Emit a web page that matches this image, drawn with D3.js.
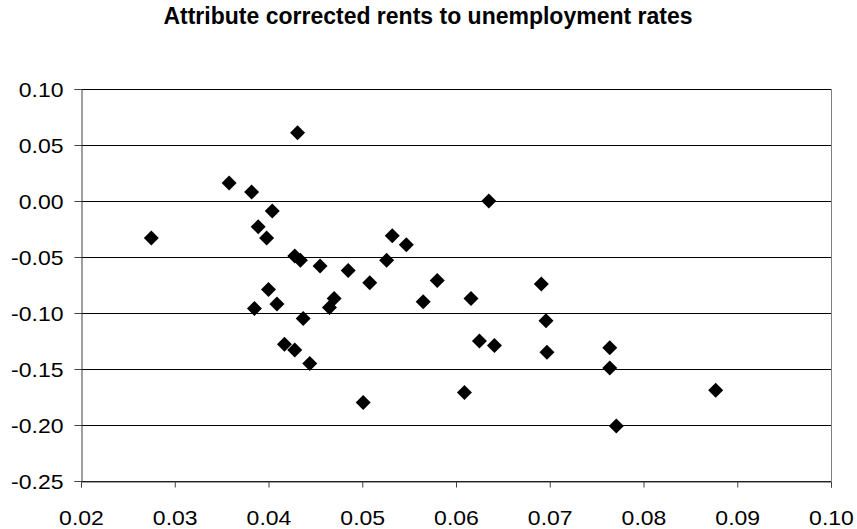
<!DOCTYPE html>
<html>
<head>
<meta charset="utf-8">
<script src="https://cdn.jsdelivr.net/npm/d3@7"></script>
<style>
  body { margin: 0; background: #fff; }
  svg { display: block; font-family: "Liberation Sans", Arial, sans-serif; }
</style>
</head>
<body>
<svg width="857" height="529"></svg>
<script>
  // unemployment rate (x) vs attribute corrected rent (y)
  var unemployment = [
    0.0275, 0.0358, 0.0382, 0.0404, 0.0389, 0.0398, 0.0431, 0.0428, 0.0434, 0.0455,
    0.0485, 0.0526, 0.0532, 0.0547, 0.0508, 0.0580, 0.0635, 0.0691, 0.0385, 0.0400,
    0.0409, 0.0437, 0.0470, 0.0465, 0.0565, 0.0616, 0.0696, 0.0417, 0.0428, 0.0444,
    0.0625, 0.0641, 0.0697, 0.0764, 0.0764, 0.0501, 0.0609, 0.0771, 0.0877
  ];
  var rents = [
    -0.033, 0.016, 0.008, -0.009, -0.023, -0.033, 0.061, -0.049, -0.053, -0.058,
    -0.062, -0.053, -0.031, -0.039, -0.073, -0.071, 0.000, -0.074, -0.096, -0.079,
    -0.092, -0.105, -0.087, -0.095, -0.090, -0.087, -0.107, -0.128, -0.133, -0.145,
    -0.125, -0.129, -0.135, -0.131, -0.149, -0.180, -0.171, -0.201, -0.169
  ];
  var xTicks = [0.02, 0.03, 0.04, 0.05, 0.06, 0.07, 0.08, 0.09, 0.10];
  var yTicks = [0.10, 0.05, 0.00, -0.05, -0.10, -0.15, -0.20, -0.25];
  var title = 'Attribute corrected rents to unemployment rates';

(function () {
  'use strict';

  var svg = d3.select('svg');
  var plot = { left: 81, right: 831, top: 89, bottom: 481 };

  var x = d3.scaleLinear().domain([0.02, 0.10]).range([plot.left, plot.right]);
  var y = d3.scaleLinear().domain([-0.25, 0.10]).range([plot.bottom, plot.top]);

  // plain hyphen for negatives, like the original
  var fmt = d3.formatLocale({
    decimal: '.', thousands: ',', grouping: [3], currency: ['', ''], minus: '-'
  }).format('.2f');

  svg.append('text')
      .attr('x', 428)
      .attr('y', 24)
      .attr('text-anchor', 'middle')
      .style('font-weight', 'bold')
      .style('font-size', '23px')
      .text(title);

  // gridlines
  svg.append('g').selectAll('line')
      .data(yTicks)
      .enter()
      .append('line')
      .attr('x1', plot.left)
      .attr('x2', plot.right)
      .attr('y1', function (d) { return Math.round(y(d)) + 0.5; })
      .attr('y2', function (d) { return Math.round(y(d)) + 0.5; })
      .style('stroke', '#000')
      .style('stroke-width', 1);

  // right border
  svg.append('line')
      .attr('x1', plot.right + 0.5).attr('x2', plot.right + 0.5)
      .attr('y1', plot.top).attr('y2', plot.bottom)
      .style('stroke', '#808080');

  var xAxis = svg.append('g')
      .attr('transform', 'translate(0,' + (plot.bottom + 0.5) + ')')
      .call(d3.axisBottom(x).tickValues(xTicks).tickSize(6).tickFormat(fmt));

  var yAxis = svg.append('g')
      .attr('transform', 'translate(' + (plot.left + 0.5) + ',0)')
      .call(d3.axisLeft(y).tickValues(yTicks).tickSize(7).tickFormat(fmt));

  [xAxis, yAxis].forEach(function (g) {
    g.select('.domain').style('stroke', '#404040');
    g.selectAll('.tick line').style('stroke', '#404040');
    g.selectAll('.tick text')
        .style('font-family', '"Liberation Sans", Arial, sans-serif')
        .style('font-size', '20px')
        .style('fill', '#000');
  });

  // labels look horizontally stretched in the original
  xAxis.selectAll('.tick text')
      .attr('y', 0)
      .attr('dy', 0)
      .attr('transform', 'translate(0,43) scale(1.15,1)');
  yAxis.selectAll('.tick text')
      .attr('x', 0)
      .attr('dy', '0.35em')
      .attr('transform', 'translate(-18,0) scale(1.15,1)');

  var r = 7.5;
  svg.append('g').selectAll('path')
      .data(unemployment)
      .enter()
      .append('path')
      .attr('d', 'M0,' + -r + 'L' + r + ',0L0,' + r + 'L' + -r + ',0Z')
      .attr('transform', function (d, i) {
        return 'translate(' + x(d) + ',' + y(rents[i]) + ')';
      })
      .style('fill', '#000');
}());
</script>
</body>
</html>
